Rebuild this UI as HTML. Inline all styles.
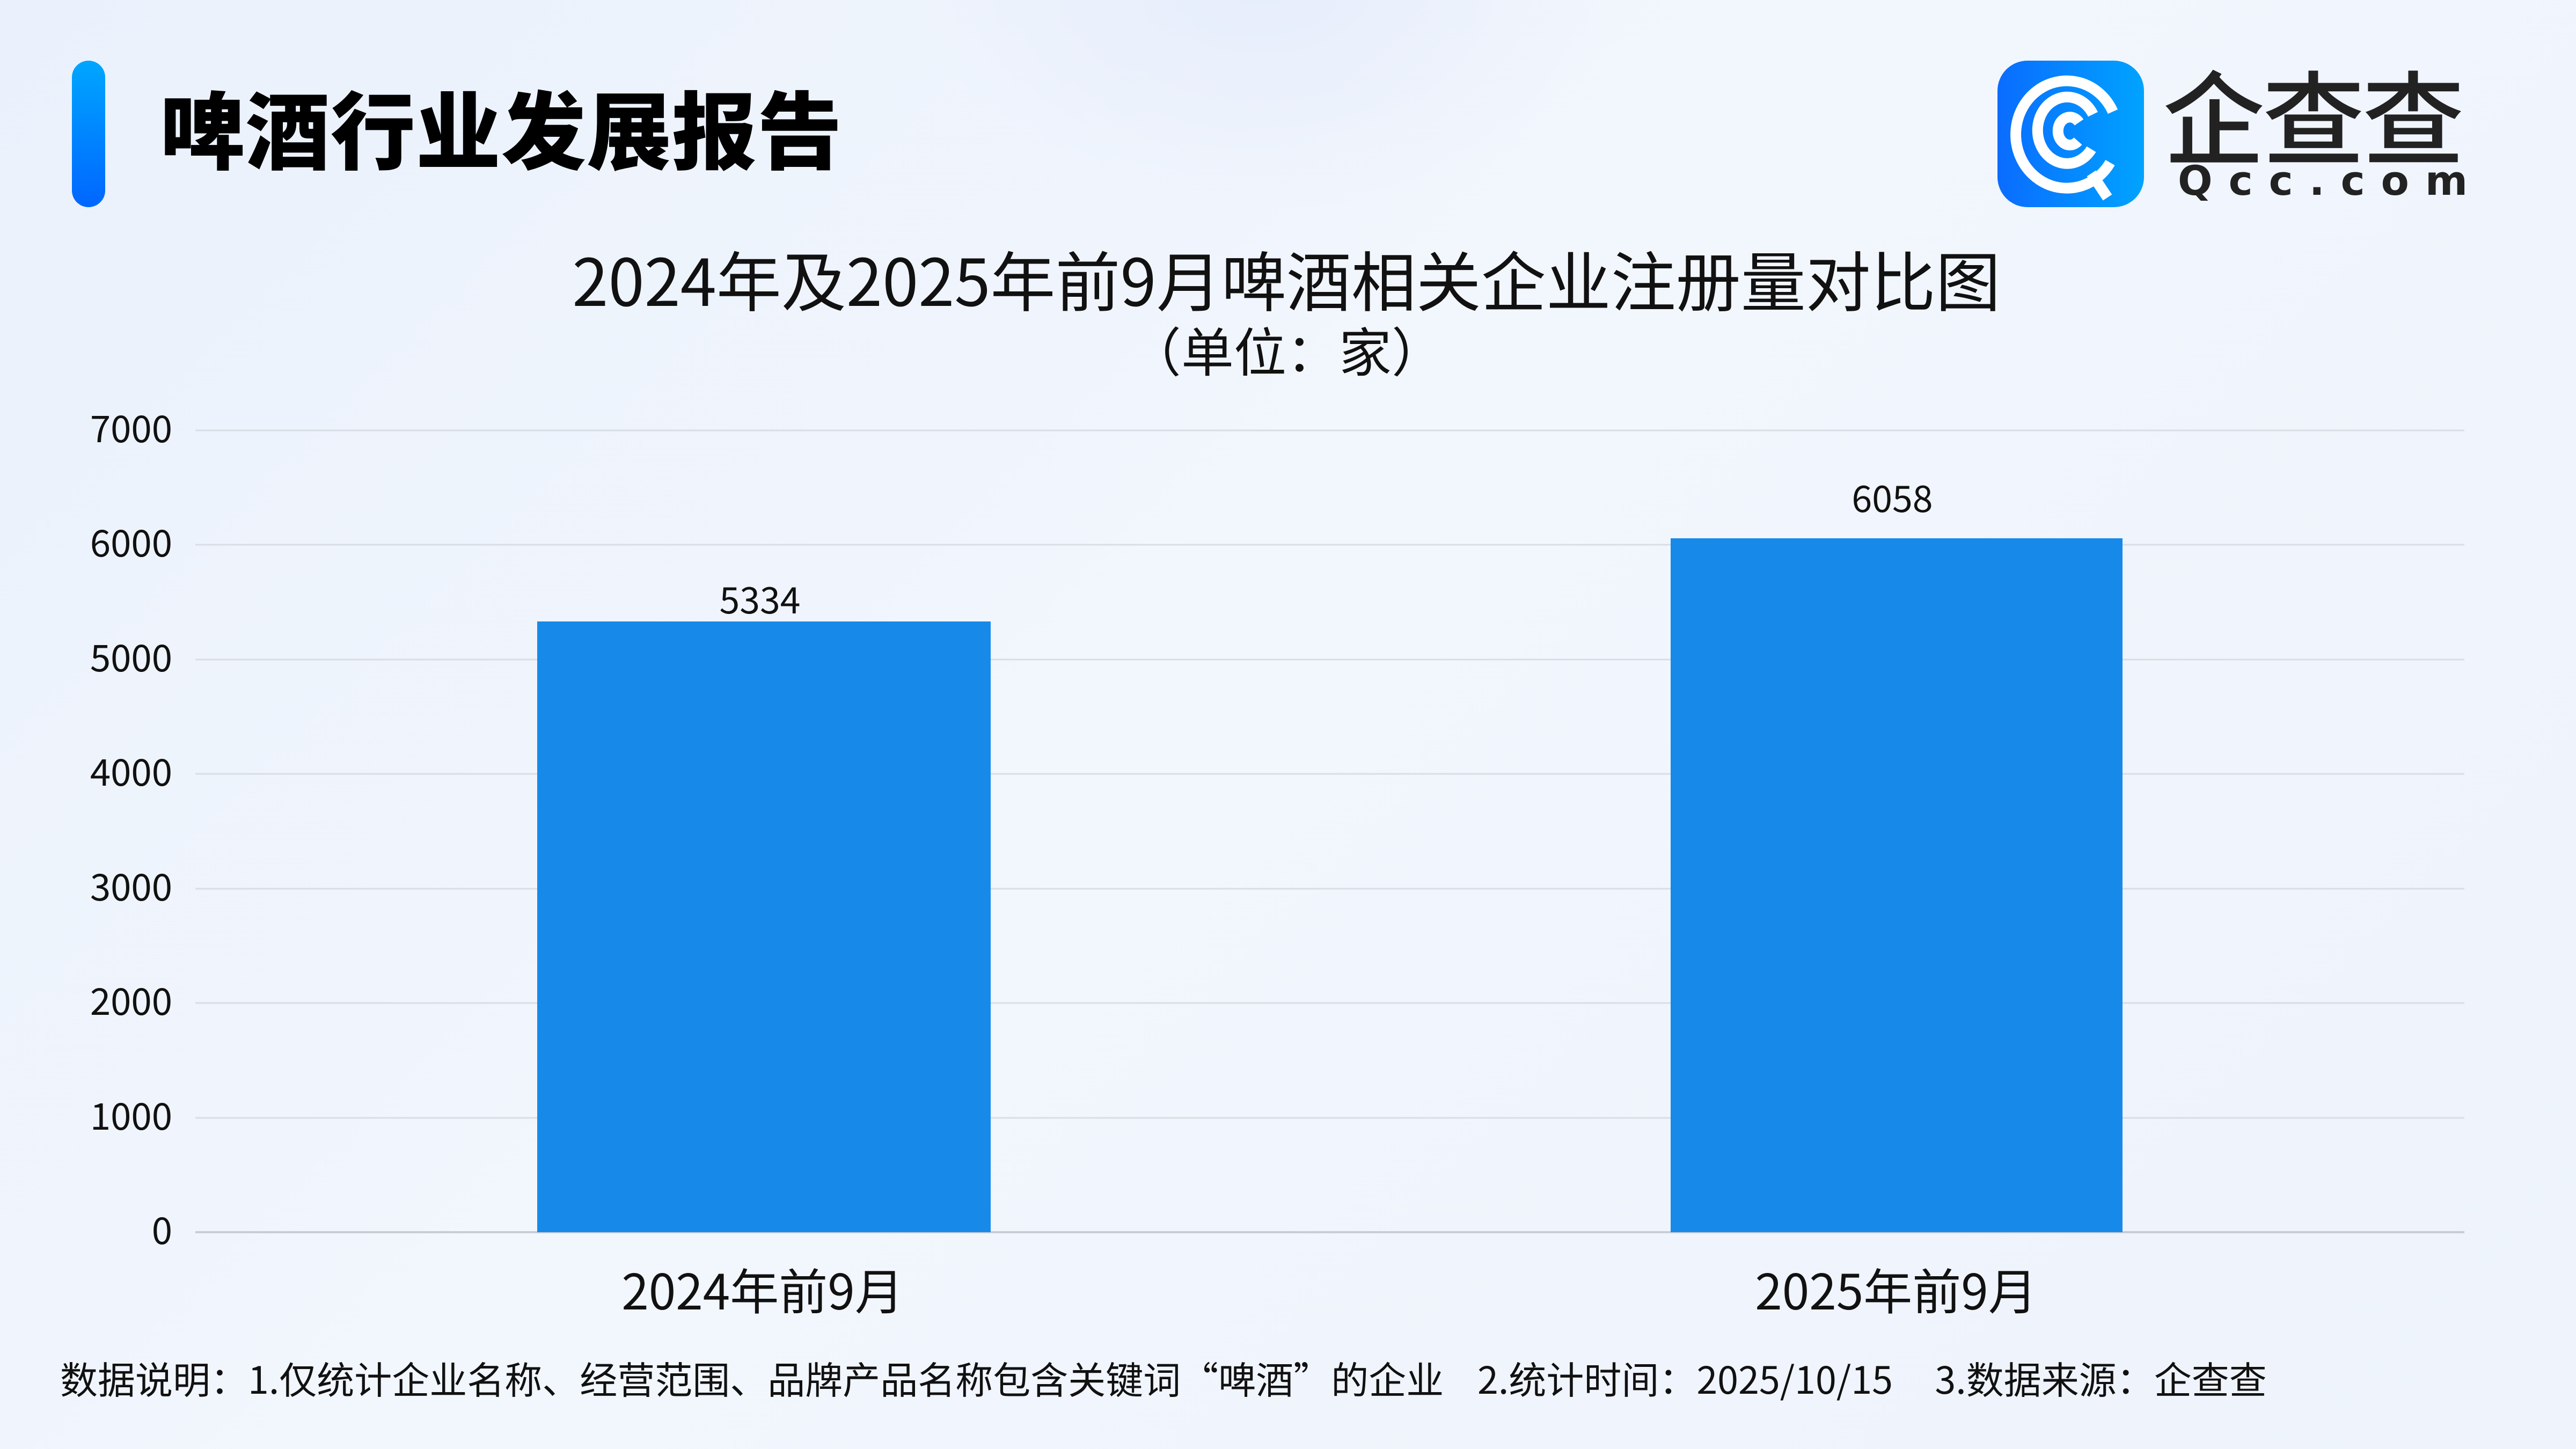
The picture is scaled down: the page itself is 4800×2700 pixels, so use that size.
<!DOCTYPE html>
<html><head><meta charset="utf-8">
<style>
html,body{margin:0;padding:0}
body{width:4800px;height:2700px;overflow:hidden;position:relative;
background:linear-gradient(135deg,#eaf1fc 0%,#f2f6fd 45%,#eef3fc 100%);
font-family:"Liberation Sans","Noto Sans CJK SC",sans-serif;color:#111}
.a{position:absolute;white-space:nowrap}
.cj{font-family:"Noto Sans CJK SC",sans-serif}
</style></head><body>
<div class="a" style="left:1700px;top:-500px;width:1300px;height:900px;border-radius:50%;background:radial-gradient(ellipse,#e6edfb 0%,rgba(236,242,252,0) 70%)"></div>
<div class="a" style="left:134px;top:113px;width:62px;height:273px;border-radius:31px;background:linear-gradient(180deg,#00a6ff,#0066ff)"></div>
<div class="a cj" style="left:298px;top:135px;font-size:158px;font-weight:900;line-height:200px;color:#000;letter-spacing:1px">啤酒行业发展报告</div>
<!-- logo -->
<div class="a" style="left:3722px;top:113px;width:273px;height:273px;border-radius:56px;background:linear-gradient(90deg,#0a6cff,#00a3ff)">
<svg width="273" height="273" viewBox="0 0 273 273">
<g fill="none" stroke="#fff" stroke-width="20" stroke-linecap="butt">
<path d="M210 190 A95 100 0 1 1 215 95"/>
<path d="M175 165 A55 62 0 1 1 178 100"/>
<path d="M150 150 A22 26 0 1 1 152 115"/>
<path d="M175 210 L205 255"/>
</g></svg></div>
<div class="a cj" style="left:4030px;top:110px;font-size:190px;font-weight:500;line-height:200px;color:#222;letter-spacing:-4px">企查查</div>
<div class="a" style="left:4058px;top:292px;font-size:76px;font-weight:700;line-height:90px;color:#222;letter-spacing:30px;font-family:'DejaVu Sans',sans-serif">Qcc.com</div>
<!-- chart title -->
<div class="a cj" style="left:0;width:4794px;top:443px;text-align:center;font-size:121px;line-height:150px;color:#111">2024年及2025年前9月啤酒相关企业注册量对比图</div>
<div class="a cj" style="left:0;width:4794px;top:590px;text-align:center;font-size:98px;line-height:120px;color:#111">（单位：家）</div>
<!-- chart -->
<svg class="a" style="left:0;top:0" width="4800" height="2700">
<g stroke="#d9dde4" stroke-width="3">
<line x1="364" x2="4592" y1="802" y2="802"/>
<line x1="364" x2="4592" y1="1015" y2="1015"/>
<line x1="364" x2="4592" y1="1229" y2="1229"/>
<line x1="364" x2="4592" y1="1442" y2="1442"/>
<line x1="364" x2="4592" y1="1656" y2="1656"/>
<line x1="364" x2="4592" y1="1869" y2="1869"/>
<line x1="364" x2="4592" y1="2083" y2="2083"/>
</g>
<line x1="364" x2="4592" y1="2296" y2="2296" stroke="#c8ccd4" stroke-width="4"/>
<rect x="1001" y="1158" width="845" height="1138" fill="#178ae9"/>
<rect x="3113" y="1003" width="842" height="1293" fill="#178ae9"/>
<g font-family="Noto Sans CJK SC,sans-serif" font-size="69" fill="#111" text-anchor="end">
<text x="321" y="824">7000</text>
<text x="321" y="1037">6000</text>
<text x="321" y="1251">5000</text>
<text x="321" y="1464">4000</text>
<text x="321" y="1678">3000</text>
<text x="321" y="1891">2000</text>
<text x="321" y="2105">1000</text>
<text x="321" y="2318">0</text>
</g>
<g font-family="Noto Sans CJK SC,sans-serif" font-size="68" fill="#111" text-anchor="middle">
<text x="1416" y="1143">5334</text>
<text x="3526" y="954">6058</text>
</g>
<g font-family="Noto Sans CJK SC,sans-serif" font-size="91" fill="#111" text-anchor="middle">
<text x="1421" y="2440">2024年前9月</text>
<text x="3533" y="2440">2025年前9月</text>
</g>
</svg>
<div class="a cj" style="left:112px;top:2523px;font-size:70px;line-height:90px;color:#111">数据说明：1.仅统计企业名称、经营范围、品牌产品名称包含关键词“啤酒”的企业&nbsp;&nbsp;&nbsp;&nbsp;2.统计时间：2025/10/15&nbsp;&nbsp;&nbsp;&nbsp;&nbsp;3.数据来源：企查查</div>
</body></html>
